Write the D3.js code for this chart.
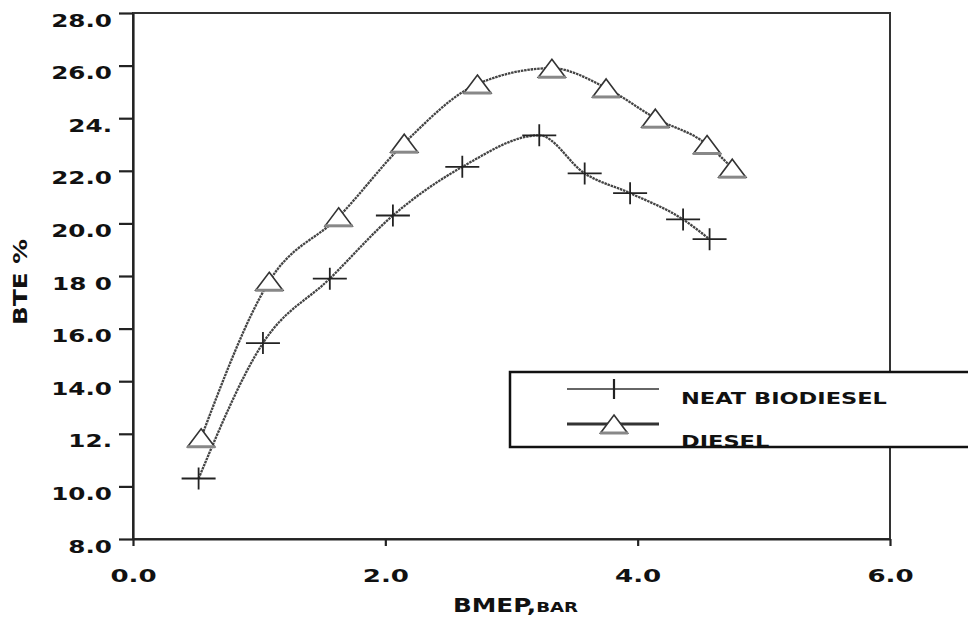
<!DOCTYPE html>
<html>
<head>
<meta charset="utf-8">
<script src="https://cdn.jsdelivr.net/npm/d3@7"></script>
<style>
  html, body { margin: 0; padding: 0; background: #fff; }
  svg { display: block; font-family: 'DejaVu Sans', sans-serif; font-weight: bold; }
</style>
</head>
<body>
<svg id="chart" width="968" height="621"></svg>
<script>
// tick values and labels as printed on the figure
const xTicks = [0, 2, 4, 6];
const xTickLabels = ['0.0', '2.0', '4.0', '6.0'];
const yTicks = [8, 10, 12, 14, 16, 18, 20, 22, 24, 26, 28];
const yTickLabels = ['8.0', '10.0', '12.', '14.0', '16.0', '18 0', '20.0', '22.0', '24.', '26.0', '28.0'];

// neat biodiesel (crosses)
const bmepBio = [0.52, 1.03, 1.56, 2.06, 2.61, 3.22, 3.58, 3.94, 4.36, 4.57];
const bteBio = [10.3, 15.45, 17.9, 20.3, 22.15, 23.35, 21.9, 21.15, 20.15, 19.4];

// diesel (triangles)
const bmepDiesel = [0.54, 1.08, 1.63, 2.15, 2.73, 3.32, 3.75, 4.14, 4.55, 4.75];
const bteDiesel = [11.85, 17.8, 20.25, 23.05, 25.3, 25.9, 25.15, 24.0, 23.0, 22.1];

const seriesNames = ['NEAT BIODIESEL', 'DIESEL'];

const margin = {top: 13, right: 78, bottom: 82, left: 133};
const W = 968, H = 621;
const width = W - margin.left - margin.right;
const height = H - margin.top - margin.bottom;
const SX = 1.45; // the original lettering is very wide

const svg = d3.select('#chart');
const g = svg.append('g').attr('transform', `translate(${margin.left},${margin.top})`);

const x = d3.scaleLinear().domain([0, 6]).range([0, width]);
const y = d3.scaleLinear().domain([8, 28]).range([height, 0]);

// frame (top + right)
g.append('rect')
  .attr('width', width).attr('height', height)
  .attr('fill', 'none').attr('stroke', '#333').attr('stroke-width', 2);

// axes
const xAxis = d3.axisBottom(x).tickValues(xTicks)
  .tickFormat((d, i) => xTickLabels[i]).tickSize(7).tickSizeOuter(0);
const yAxis = d3.axisLeft(y).tickValues(yTicks)
  .tickFormat((d, i) => yTickLabels[i]).tickSize(14).tickSizeOuter(0);

const gx = g.append('g').attr('transform', `translate(0,${height})`).call(xAxis);
const gy = g.append('g').call(yAxis);

[gx, gy].forEach(a => {
  a.select('.domain').attr('stroke', '#222').attr('stroke-width', 2.2);
  a.selectAll('.tick line').attr('stroke', '#222').attr('stroke-width', 2.2);
  a.selectAll('.tick text')
    .attr('x', null).attr('y', null).attr('dy', null)
    .attr('fill', '#111')
    .style('font-size', '17px')
    .style('font-family', "'DejaVu Sans', sans-serif")
    .style('font-weight', 'bold');
});
gy.selectAll('.tick text').attr('text-anchor', 'end')
  .attr('transform', `translate(-21,13) scale(${SX},1)`);
gx.selectAll('.tick text').attr('text-anchor', 'middle')
  .style('font-size', '18px')
  .attr('transform', `translate(0,43) scale(${SX},1)`);

// axis titles
const xt = svg.append('text')
  .attr('transform', `translate(453,612) scale(1.3,1)`)
  .attr('fill', '#111');
xt.append('tspan').style('font-size', '19px').text('BMEP,');
xt.append('tspan').style('font-size', '14px').text('BAR');

svg.append('text')
  .attr('transform', `translate(27,282) rotate(-90) scale(1.3,1)`)
  .attr('text-anchor', 'middle')
  .attr('fill', '#111')
  .style('font-size', '19px')
  .text('BTE %');

// lines
const line = d3.line()
  .x(d => x(d[0]))
  .y(d => y(d[1]))
  .curve(d3.curveMonotoneX);

const bio = bmepBio.map((v, i) => [v, bteBio[i]]);
const diesel = bmepDiesel.map((v, i) => [v, bteDiesel[i]]);

[bio, diesel].forEach(s => {
  g.append('path').datum(s).attr('d', line)
    .attr('fill', 'none').attr('stroke', '#444').attr('stroke-width', 2.3)
    .attr('stroke-dasharray', '2.5,0.8');
});

// markers
const crossPath = 'M-17,0H17M0,-11V11';
const triPath = 'M0,-9L13.5,9L-13.5,9Z';

const drawCross = (sel) => sel.append('path').attr('d', crossPath)
  .attr('fill', 'none').attr('stroke', '#222').attr('stroke-width', 1.8);
const drawTri = (sel) => {
  sel.append('path').attr('d', triPath)
    .attr('fill', '#fff').attr('stroke', '#333').attr('stroke-width', 1.6);
  sel.append('line').attr('x1', -14).attr('x2', 14).attr('y1', 9).attr('y2', 9)
    .attr('stroke', '#888').attr('stroke-width', 3);
};

g.selectAll('.bio').data(bio).join('g').attr('class', 'bio')
  .attr('transform', d => `translate(${x(d[0])},${y(d[1])})`)
  .call(drawCross);
g.selectAll('.dsl').data(diesel).join('g').attr('class', 'dsl')
  .attr('transform', d => `translate(${x(d[0])},${y(d[1])})`)
  .call(drawTri);

// legend
const lg = svg.append('g').attr('transform', 'translate(510,372)');
lg.append('rect').attr('width', 480).attr('height', 75)
  .attr('fill', '#fff').attr('stroke', '#111').attr('stroke-width', 2.5);

const l1 = lg.append('g').attr('transform', 'translate(104,17)');
l1.append('line').attr('x1', -47).attr('x2', 45)
  .attr('stroke', '#333').attr('stroke-width', 1.6);
l1.append('line').attr('y1', -10).attr('y2', 10)
  .attr('stroke', '#222').attr('stroke-width', 2.2);

const l2 = lg.append('g').attr('transform', 'translate(104,52)');
l2.append('line').attr('x1', -47).attr('x2', 45)
  .attr('stroke', '#333').attr('stroke-width', 3);
l2.call(drawTri);

lg.selectAll('.ltext').data(seriesNames).join('text')
  .attr('class', 'ltext')
  .attr('transform', (d, i) => `translate(171,${i === 0 ? 32 : 75}) scale(1.5,1)`)
  .attr('fill', '#111')
  .style('font-size', '15px')
  .text(d => d);
</script>
</body>
</html>
